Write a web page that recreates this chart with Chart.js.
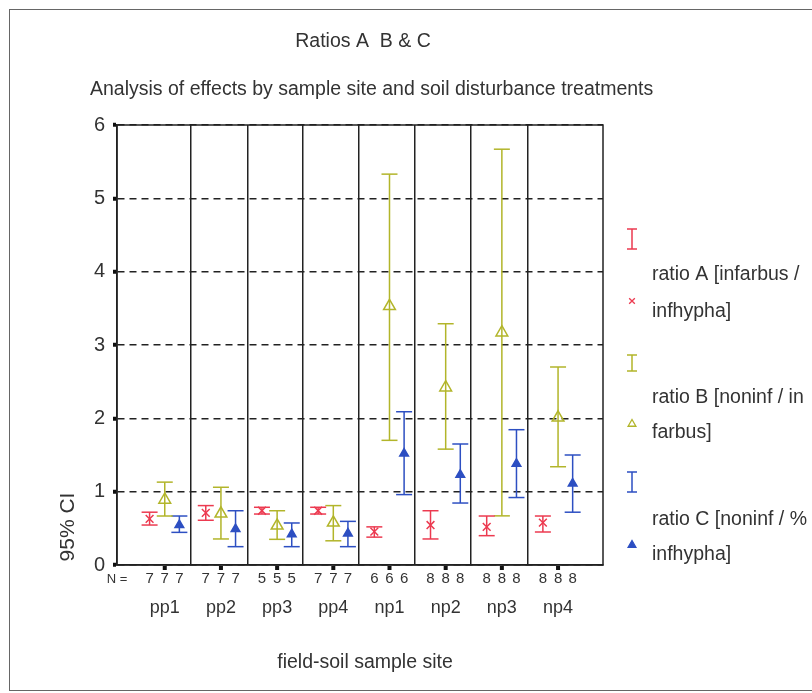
<!DOCTYPE html>
<html>
<head>
<meta charset="utf-8">
<script src="https://cdn.jsdelivr.net/npm/chart.js@4.4.1/dist/chart.umd.min.js"></script>
<style>
  html, body { margin: 0; padding: 0; background: #fff; }
  canvas { display: block; }
</style>
</head>
<body>
<canvas id="grafico" width="812" height="693"></canvas>
<script>
// --- dados: razões A, B e C por local de amostragem (média e IC 95%) ---
const sites = ['pp1', 'pp2', 'pp3', 'pp4', 'np1', 'np2', 'np3', 'np4'];
const sampleN = [7, 7, 5, 7, 6, 8, 8, 8];

const meanA = [0.63, 0.71, 0.74, 0.74, 0.455, 0.545, 0.52, 0.577];
const lowA  = [0.545, 0.61, 0.695, 0.695, 0.38, 0.355, 0.40, 0.45];
const highA = [0.72, 0.81, 0.787, 0.787, 0.52, 0.74, 0.668, 0.668];

const meanB = [0.89, 0.70, 0.536, 0.577, 3.53, 2.42, 3.17, 2.01];
const lowB  = [0.668, 0.355, 0.35, 0.33, 1.70, 1.58, 0.67, 1.34];
const highB = [1.13, 1.06, 0.74, 0.81, 5.33, 3.29, 5.67, 2.70];

const meanC = [0.545, 0.49, 0.42, 0.43, 1.52, 1.23, 1.38, 1.11];
const lowC  = [0.445, 0.25, 0.25, 0.25, 0.96, 0.845, 0.92, 0.72];
const highC = [0.668, 0.74, 0.573, 0.595, 2.09, 1.65, 1.845, 1.50];

const yTicks = [0, 1, 2, 3, 4, 5, 6];

const legendLines = [
    ['ratio A [infarbus /', 'infhypha]'],
    ['ratio B [noninf / in', 'farbus]'],
    ['ratio C [noninf / %', 'infhypha]']
];

const chartTitle = 'Ratios A  B & C';
const chartSubtitle = 'Analysis of effects by sample site and soil disturbance treatments';
const xTitle = 'field-soil sample site';
const yTitle = '95% CI';

/* --- estilo --- */
const FONTE = '"Liberation Sans", Arial, sans-serif';
const TEXTO = '#333';
const cores = ['#ec3a50', '#b2b52a', '#2d4fc2'];
const deslocamento = [-0.27, 0, 0.26];   // posição de cada razão dentro do grupo
const divisorias = [0.47, 1.47, 2.46, 3.46, 4.45, 5.45, 6.46];

function pontosMedia(medias, k) {
    return medias.map((v, i) => ({ x: i + deslocamento[k], y: v }));
}

// segmentos verticais do IC, separados por pontos nulos
function pontosIC(lo, hi, k) {
    const pts = [];
    lo.forEach((v, i) => {
        const x = i + deslocamento[k];
        pts.push({ x, y: v }, { x, y: hi[i] }, { x, y: null });
    });
    return pts;
}

function datasetIC(lo, hi, k) {
    return {
        data: pontosIC(lo, hi, k),
        showLine: true,
        spanGaps: false,
        borderColor: cores[k],
        borderWidth: 1.5,
        pointStyle: 'line',
        pointRadius: 8,
        pointBorderWidth: 1.5,
        pointBorderColor: cores[k],
        order: 2
    };
}

const series = [
    { lo: lowA, hi: highA, media: meanA, estilo: 'crossRot', raio: 5.5, fill: 'rgba(0,0,0,0)' },
    { lo: lowB, hi: highB, media: meanB, estilo: 'triangle', raio: 6.8, fill: 'rgba(0,0,0,0)' },
    { lo: lowC, hi: highC, media: meanC, estilo: 'triangle', raio: 5, fill: cores[2] }
];

const datasets = [];
series.forEach((s, k) => {
    datasets.push(datasetIC(s.lo, s.hi, k));
    datasets.push({
        label: legendLines[k].join(' '),
        data: pontosMedia(s.media, k),
        pointStyle: s.estilo,
        pointRadius: s.raio,
        pointBorderWidth: 1.5,
        pointBorderColor: cores[k],
        pointBackgroundColor: s.fill,
        order: 1
    });
});

/* --- textos, moldura e legenda desenhados por cima --- */
const decoracao = {
    id: 'decoracao',
    afterDraw(chart) {
        const ctx = chart.ctx;
        const area = chart.chartArea;
        const xs = chart.scales.x;
        ctx.save();

        // moldura externa
        ctx.strokeStyle = '#666';
        ctx.lineWidth = 1;
        ctx.strokeRect(9.5, 9.5, 830, 681);

        // borda do gráfico
        ctx.strokeStyle = '#222';
        ctx.lineWidth = 1.5;
        ctx.strokeRect(area.left, area.top, area.right - area.left, area.bottom - area.top);

        ctx.fillStyle = TEXTO;
        ctx.textBaseline = 'middle';

        // títulos
        ctx.font = '19.5px ' + FONTE;
        ctx.textAlign = 'center';
        ctx.fillText(chartTitle, (area.left + area.right) / 2 + 3, 42);
        ctx.textAlign = 'left';
        ctx.fillText(chartSubtitle, 90, 90);

        // marcas nos centros dos grupos, N e nomes dos locais
        sites.forEach((nome, i) => {
            const cx = xs.getPixelForValue(i);
            ctx.fillStyle = '#111';
            ctx.fillRect(cx - 2, area.bottom + 1, 4, 4);
            ctx.fillStyle = TEXTO;
            ctx.textAlign = 'center';
            ctx.font = '15px ' + FONTE;
            deslocamento.forEach(d => {
                ctx.fillText(String(sampleN[i]), xs.getPixelForValue(i + d), 579);
            });
            ctx.font = '18px ' + FONTE;
            ctx.fillText(nome, cx, 608);
        });
        ctx.font = '13px ' + FONTE;
        ctx.textAlign = 'center';
        ctx.fillText('N =', 117, 579);

        // título do eixo x
        ctx.font = '19.5px ' + FONTE;
        ctx.fillText(xTitle, 365, 663);

        // título do eixo y (girado)
        ctx.save();
        ctx.translate(68, 527);
        ctx.rotate(-Math.PI / 2);
        ctx.font = '21px ' + FONTE;
        ctx.textAlign = 'center';
        ctx.fillText(yTitle, 0, 0);
        ctx.restore();

        // legenda: barra de IC, marcador e texto em duas linhas
        const legY = [
            { barra: 239, alt: 20, marca: 301, linhas: [275, 312] },
            { barra: 363, alt: 16, marca: 424, linhas: [398, 433] },
            { barra: 482, alt: 20, marca: 545, linhas: [520, 555] }
        ];
        legY.forEach((p, k) => {
            const cor = cores[k];
            const s = series[k];
            ctx.strokeStyle = cor;
            ctx.lineWidth = 1.5;
            ctx.beginPath();
            ctx.moveTo(627, p.barra - p.alt / 2); ctx.lineTo(637, p.barra - p.alt / 2);
            ctx.moveTo(632, p.barra - p.alt / 2); ctx.lineTo(632, p.barra + p.alt / 2);
            ctx.moveTo(627, p.barra + p.alt / 2); ctx.lineTo(637, p.barra + p.alt / 2);
            ctx.stroke();

            // drawPoint usa o fillStyle/strokeStyle atuais do contexto
            ctx.fillStyle = s.fill;
            ctx.strokeStyle = cor;
            ctx.lineWidth = 1.3;
            Chart.helpers.drawPoint(ctx, {
                pointStyle: s.estilo,
                radius: k === 0 ? 4 : 4.5,
                borderWidth: 1.3
            }, 632, p.marca);

            ctx.fillStyle = TEXTO;
            ctx.font = '19.5px ' + FONTE;
            ctx.textAlign = 'left';
            legendLines[k].forEach((t, j) => ctx.fillText(t, 652, p.linhas[j]));
        });

        ctx.restore();
    }
};

new Chart(document.getElementById('grafico'), {
    type: 'scatter',
    data: { datasets },
    options: {
        responsive: false,
        devicePixelRatio: 1,
        animation: false,
        layout: { padding: { left: 0, top: 125, right: 209, bottom: 0 } },
        plugins: {
            legend: { display: false },
            tooltip: { enabled: false }
        },
        scales: {
            x: {
                type: 'linear',
                min: -0.85,
                max: 7.8,
                afterBuildTicks: axis => { axis.ticks = divisorias.map(v => ({ value: v })); },
                afterFit: axis => { axis.height = 128; },
                ticks: { display: false },
                grid: { color: '#222', lineWidth: 1.5, drawTicks: false },
                border: { color: '#222', width: 1.5 }
            },
            y: {
                min: 0,
                max: 6,
                afterBuildTicks: axis => { axis.ticks = yTicks.map(v => ({ value: v })); },
                afterFit: axis => { axis.width = 117; },
                ticks: {
                    color: TEXTO,
                    padding: 8,
                    font: { family: FONTE, size: 20 }
                },
                grid: {
                    color: '#222',
                    lineWidth: 1.5,
                    tickLength: 4,
                    tickWidth: 4,
                    tickColor: '#111'
                },
                border: { color: '#222', width: 1.5, dash: [7, 5] }
            }
        }
    },
    plugins: [decoracao]
});
</script>
</body>
</html>
